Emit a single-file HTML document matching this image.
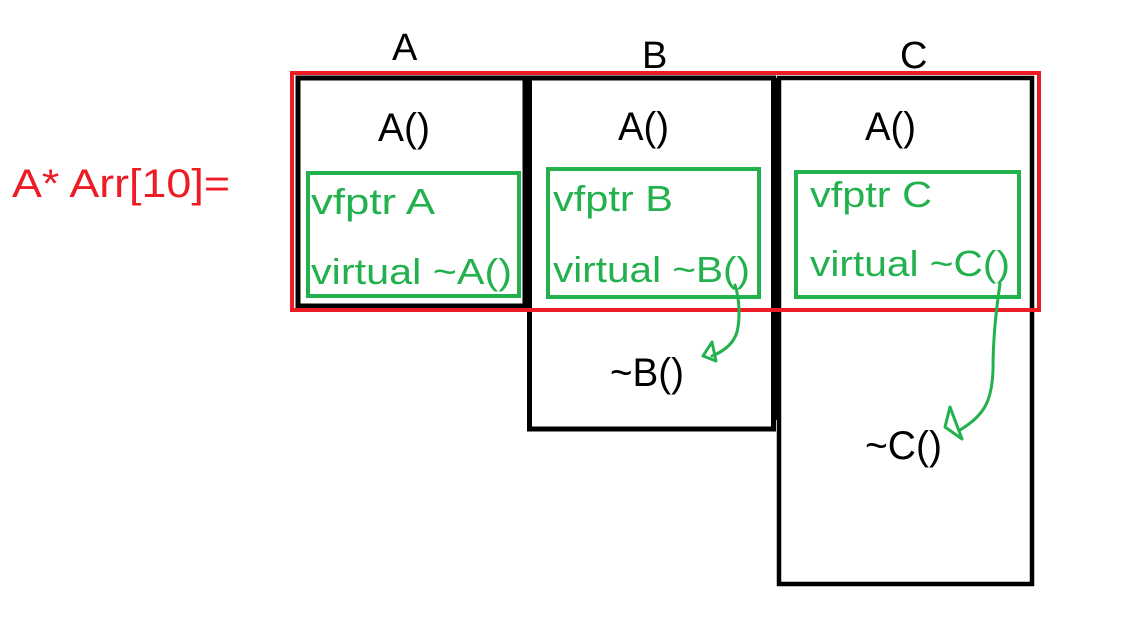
<!DOCTYPE html>
<html><head><meta charset="utf-8"><style>
html,body{margin:0;padding:0;background:#fff;}
svg{display:block;}
text{font-family:"Liberation Sans",sans-serif;}
</style></head><body>
<svg width="1141" height="635" viewBox="0 0 1141 635" xmlns="http://www.w3.org/2000/svg">
<rect width="1141" height="635" fill="#fff"/>
<!-- black boxes -->
<rect x="298" y="78" width="227" height="228" fill="none" stroke="#000" stroke-width="5"/>
<rect x="529.5" y="78" width="244" height="351" fill="none" stroke="#000" stroke-width="5"/>
<rect x="779" y="78" width="253" height="506" fill="none" stroke="#000" stroke-width="4.5"/>
<rect x="771" y="78" width="8" height="342" fill="#000"/>
<!-- red -->
<rect x="292" y="73" width="747" height="237" fill="none" stroke="#ed1c24" stroke-width="4"/>
<!-- green boxes -->
<rect x="308" y="173" width="211" height="123" fill="none" stroke="#22b14c" stroke-width="4"/>
<rect x="548" y="169" width="211" height="128" fill="none" stroke="#22b14c" stroke-width="4"/>
<rect x="796" y="172" width="223" height="125" fill="none" stroke="#22b14c" stroke-width="4"/>
<!-- labels -->
<text x="12" y="197" font-size="40" fill="#ed1c24" textLength="218" lengthAdjust="spacingAndGlyphs">A* Arr[10]=</text>
<text x="392" y="60" font-size="38" fill="#000">A</text>
<text x="642" y="68" font-size="38" fill="#000">B</text>
<text x="900" y="68" font-size="38" fill="#000">C</text>
<text x="378" y="141" font-size="40" textLength="52" lengthAdjust="spacingAndGlyphs">A()</text>
<text x="618" y="140" font-size="40" textLength="51" lengthAdjust="spacingAndGlyphs">A()</text>
<text x="865" y="140" font-size="40" textLength="51" lengthAdjust="spacingAndGlyphs">A()</text>
<g fill="#22b14c" font-size="36">
<text x="311" y="214" textLength="124" lengthAdjust="spacingAndGlyphs">vfptr A</text>
<text x="311" y="284" textLength="201" lengthAdjust="spacingAndGlyphs">virtual ~A()</text>
<text x="553" y="211" textLength="120" lengthAdjust="spacingAndGlyphs">vfptr B</text>
<text x="553" y="282" textLength="197" lengthAdjust="spacingAndGlyphs">virtual ~B()</text>
<text x="810" y="207" textLength="122" lengthAdjust="spacingAndGlyphs">vfptr C</text>
<text x="810" y="276" textLength="200" lengthAdjust="spacingAndGlyphs">virtual ~C()</text>
</g>
<text x="610" y="386" font-size="40" textLength="74" lengthAdjust="spacingAndGlyphs">~B()</text>
<text x="865" y="459" font-size="40" textLength="77" lengthAdjust="spacingAndGlyphs">~C()</text>
<!-- arrows -->
<g fill="none" stroke="#22b14c" stroke-width="3" stroke-linejoin="round" stroke-linecap="round">
<path d="M735 285 C740 300 740 320 737 332 C733 345 722 352 712 356"/>
<path d="M712 342 L703 356 L716 361 Z"/>
<path d="M1000 284 C996 310 993 340 993 370 C992 400 985 415 960 430"/>
<path d="M950 407 L945 427 L962 439 Z"/>
</g>
</svg>
</body></html>
